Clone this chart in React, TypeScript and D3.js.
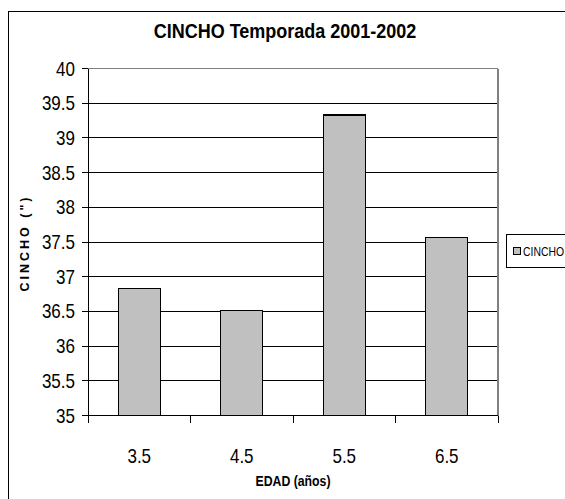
import React from "react";
import * as d3 from "d3";

const ages = ["3.5", "4.5", "5.5", "6.5"];
const cincho = [36.83, 36.51, 39.33, 37.57];
const yTicks = [35, 35.5, 36, 36.5, 37, 37.5, 38, 38.5, 39, 39.5, 40];
const seriesName = "CINCHO";

const W = 565;
const H = 499;
const plot = { left: 88, right: 498, top: 68.5, bottom: 415.5 };
const sans = "Arial, 'Liberation Sans', sans-serif";

// Condensed text: regular sans glyphs squeezed horizontally around the anchor point.
function NarrowText({
  x,
  y,
  squeeze = 0.85,
  children,
  ...rest
}: {
  x: number;
  y: number;
  squeeze?: number;
  children: React.ReactNode;
  [k: string]: any;
}) {
  return (
    <text
      transform={`translate(${x},${y}) scale(${squeeze},1)`}
      fontFamily={sans}
      {...rest}
    >
      {children}
    </text>
  );
}

export default function App() {
  const x = d3
    .scaleBand<string>()
    .domain(ages)
    .range([plot.left, plot.right])
    .paddingInner(0.59)
    .paddingOuter(0.295);
  const band = (plot.right - plot.left) / ages.length;
  const y = d3.scaleLinear().domain([35, 40]).range([plot.bottom, plot.top]);
  const fmt = d3.format("~g");

  return (
    <svg
      width={W}
      height={H}
      style={{ position: "absolute", left: 0, top: 0 }}
      shapeRendering="crispEdges"
    >
      <rect x={0} y={0} width={W} height={H} fill="#fff" />
      {/* chart area frame */}
      <rect x={8.5} y={11.5} width={W + 10} height={H + 10} fill="none" stroke="#000" strokeWidth={1.5} />

      <NarrowText x={285} y={38} squeeze={0.9} textAnchor="middle" fontWeight="bold" fontSize={20}>
        CINCHO Temporada 2001-2002
      </NarrowText>

      {/* gridlines */}
      {yTicks.slice(1, -1).map((t) => (
        <line key={t} x1={plot.left} x2={plot.right} y1={y(t)} y2={y(t)} stroke="#000" strokeWidth={1} />
      ))}
      {/* plot frame top/right */}
      <line x1={plot.left} x2={plot.right} y1={y(40)} y2={y(40)} stroke="#808080" strokeWidth={1.5} />
      <line x1={plot.right} x2={plot.right} y1={plot.top} y2={plot.bottom} stroke="#808080" strokeWidth={1.5} />

      {/* bars */}
      {cincho.map((v, i) => (
        <rect
          key={ages[i]}
          x={x(ages[i])}
          y={y(v)}
          width={x.bandwidth()}
          height={y(35) - y(v)}
          fill="#c0c0c0"
          stroke="#000"
          strokeWidth={1.2}
        />
      ))}

      {/* y axis */}
      <line x1={plot.left} x2={plot.left} y1={plot.top} y2={plot.bottom} stroke="#000" />
      {yTicks.map((t) => (
        <g key={t}>
          <line x1={plot.left - 6} x2={plot.left} y1={y(t)} y2={y(t)} stroke="#000" />
          <NarrowText x={plot.left - 13} y={y(t) + 7} textAnchor="end" fontSize={20}>
            {fmt(t)}
          </NarrowText>
        </g>
      ))}

      {/* x axis */}
      <line x1={plot.left} x2={plot.right} y1={plot.bottom} y2={plot.bottom} stroke="#000" strokeWidth={1.2} />
      {d3.range(ages.length + 1).map((i) => (
        <line
          key={i}
          x1={plot.left + i * band}
          x2={plot.left + i * band}
          y1={plot.bottom}
          y2={plot.bottom + 7}
          stroke="#000"
        />
      ))}
      {ages.map((a) => (
        <NarrowText
          key={a}
          x={(x(a) as number) + x.bandwidth() / 2}
          y={463}
          textAnchor="middle"
          fontSize={20}
        >
          {a}
        </NarrowText>
      ))}

      <NarrowText x={293} y={486} textAnchor="middle" fontWeight="bold" fontSize={15} squeeze={0.82}>
        EDAD (años)
      </NarrowText>
      <text
        transform="translate(29,243) rotate(-90)"
        textAnchor="middle"
        fontFamily={sans}
        fontWeight="bold"
        fontSize={12.5}
        letterSpacing={3}
      >
        CINCHO (")
      </text>

      {/* legend */}
      <rect x={506.5} y={234.5} width={70} height={33} fill="#fff" stroke="#000" strokeWidth={1} />
      <rect x={513.5} y={247.5} width={7} height={7} fill="#c0c0c0" stroke="#000" strokeWidth={1} />
      <NarrowText x={523} y={256} fontSize={13} squeeze={0.8}>
        {seriesName}
      </NarrowText>
    </svg>
  );
}
